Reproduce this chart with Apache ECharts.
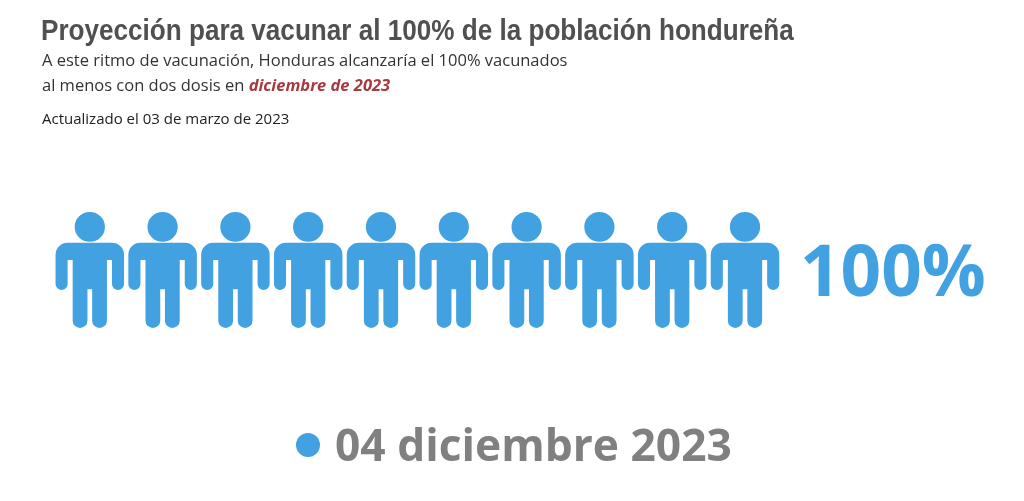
<!DOCTYPE html>
<html><head><meta charset="utf-8">
<style>html,body{margin:0;padding:0;background:#fff}#c{width:1024px;height:501px}</style>
<script src="https://cdn.jsdelivr.net/npm/echarts@6/dist/echarts.min.js"></script>
</head><body><div id="c"></div>
<script>
const categories = ['10%','20%','30%','40%','50%','60%','70%','80%','90%','100%'];
const values = [10,10,10,10,10,10,10,10,10,10];
const titleText = 'Proyección para vacunar al 100% de la población hondureña';
const subtitleLine1 = 'A este ritmo de vacunación, Honduras alcanzaría el 100% vacunados';
const subtitleLine2 = 'al menos con dos dosis en ';
const subtitleHighlight = 'diciembre de 2023';
const updatedText = 'Actualizado el 03 de marzo de 2023';
const totalLabel = '100%';
const dateLabel = '04 diciembre 2023';

const person = 'path://M57,45 A45,45 0 1 1 147,45 A45,45 0 1 1 57,45 Z M36,93 L168,93 A36,36 0 0 1 204,129 L204,217 A18,18 0 0 1 168,217 L168,145 L153,145 L153,328 A22,22 0 0 1 109,328 L109,233 L95,233 L95,328 A22,22 0 0 1 51,328 L51,145 L36,145 L36,217 A18,18 0 0 1 0,217 L0,129 A36,36 0 0 1 36,93 Z';
const blue = '#42a1e0';
const body = '"Open Sans","Noto Sans",sans-serif';

const chart = echarts.init(document.getElementById('c'), null, {renderer:'canvas'});
chart.setOption({
  animation:false,
  backgroundColor:'#fff',
  title:[
    {text:subtitleLine1,left:42,top:53,padding:0,textStyle:{fontFamily:body,fontWeight:'normal',fontSize:16.5,color:'#333'}},
    {text:subtitleLine2+'{h|'+subtitleHighlight+'}',left:42,top:78,padding:0,textStyle:{fontFamily:body,fontWeight:'normal',fontSize:16.5,color:'#333',
      rich:{h:{fontFamily:body,fontWeight:'bold',fontStyle:'italic',fontSize:16.5,color:'#a83a3f'}}}},
    {text:updatedText,left:42,top:112,padding:0,textStyle:{fontFamily:body,fontWeight:'normal',fontSize:15,color:'#222'}},
    {text:totalLabel,left:800,top:240,padding:0,textStyle:{fontFamily:'"Open Sans",sans-serif',fontWeight:'bold',fontSize:71,color:blue}},
    {text:dateLabel,left:335,top:426,padding:0,textStyle:{fontFamily:'"Open Sans",sans-serif',fontWeight:'bold',fontSize:44.3,color:'#808080'}}
  ],
  graphic:[
    {type:'text',x:41,y:17,scaleX:0.87,style:{text:titleText,fontFamily:'"Liberation Sans",sans-serif',fontWeight:'bold',fontSize:30,fill:'#505050'}},
    {type:'circle',shape:{cx:308,cy:445,r:12},style:{fill:blue}}
  ],
  grid:{left:53.4,top:212,width:728,height:116,containLabel:false},
  xAxis:{type:'category',data:categories,show:false},
  yAxis:{type:'value',min:0,max:10,show:false},
  series:[{
    type:'pictorialBar',
    data:values,
    symbol:person,
    symbolSize:[68.5,116],
    symbolPosition:'start',
    itemStyle:{color:blue},
    silent:true
  }]
});
</script></body></html>
